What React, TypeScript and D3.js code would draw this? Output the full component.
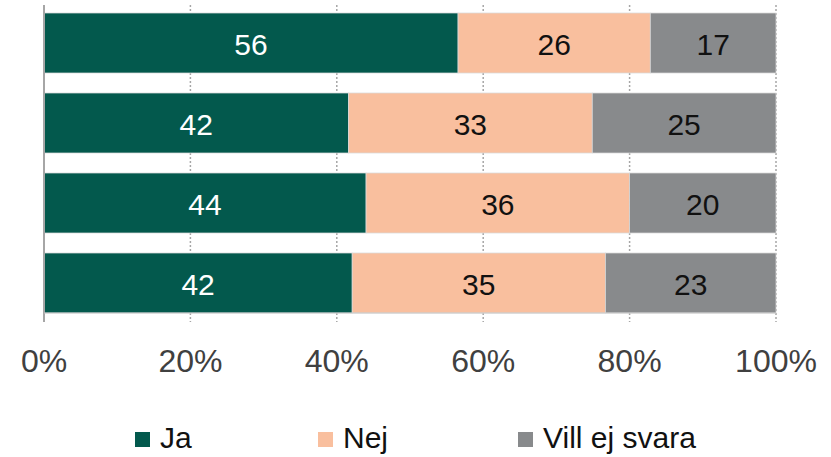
import React from 'react';
import * as d3 from 'd3';

const rows = ['r1', 'r2', 'r3', 'r4'];
const series = ['Ja', 'Nej', 'Vill ej svara'];
// shares; labels are shown rounded
const ja = [56, 41.6, 44, 42.1];
const nej = [26, 33.3, 36, 34.6];
const villEj = [17, 25.1, 20, 23.3];
const ticks = [0, 0.2, 0.4, 0.6, 0.8, 1];
const colors = ['#03594d', '#f9bf9e', '#888a8c'];
const labelColors = ['#ffffff', '#111111', '#111111'];

const W = 831;
const H = 457;
const margin = { top: 3, right: 55, bottom: 134, left: 44 };

const App: React.FC = () => {
  const x = d3.scaleLinear().domain([0, 1]).range([margin.left, W - margin.right]);
  const y = d3.scaleBand<string>()
    .domain(rows)
    .range([margin.top, H - margin.bottom])
    .paddingInner(0.25)
    .paddingOuter(0.125);

  const table = rows.map((r, i) => ({ row: r, Ja: ja[i], Nej: nej[i], 'Vill ej svara': villEj[i] }));
  const stacked = d3.stack<any>().keys(series).offset(d3.stackOffsetExpand)(table);

  const plotBottom = (y(rows[rows.length - 1]) || 0) + y.bandwidth();
  const font = '"Liberation Sans", Arial, sans-serif';
  const legendX = [135, 318, 518];

  return (
    <svg width={W} height={H} style={{ position: 'absolute', left: 0, top: 0, background: '#fff' }}>
      {/* grid */}
      {ticks.slice(1).map(t => (
        <line key={t} x1={x(t)} x2={x(t)} y1={5} y2={plotBottom + 9}
          stroke="#a6a6a6" strokeWidth={1.5} strokeDasharray="2,2" />
      ))}
      {stacked.map((s, si) => (
        <g key={s.key}>
          {s.map((d, i) => (
            <g key={i}>
              <rect x={x(d[0])} y={y(rows[i])} width={x(d[1]) - x(d[0])} height={y.bandwidth()}
                fill={colors[si]} stroke="#d9d9d9" strokeWidth={0.75} />
              <text x={(x(d[0]) + x(d[1])) / 2} y={(y(rows[i]) || 0) + y.bandwidth() / 2 + 12}
                textAnchor="middle" fontFamily={font} fontSize={30}
                fill={labelColors[si]}>
                {d3.format('.0f')((d.data as any)[s.key])}
              </text>
            </g>
          ))}
        </g>
      ))}
      {/* axes */}
      <line x1={x(0)} x2={x(0)} y1={5} y2={plotBottom + 9} stroke="#a6a6a6" strokeWidth={2} />
      <line x1={x(0)} x2={x(1)} y1={plotBottom} y2={plotBottom} stroke="#c8c8c8" strokeWidth={1} />
      {ticks.map(t => (
        <text key={t} x={x(t)} y={372} textAnchor="middle"
          fontFamily={font} fontSize={32} fill="#404040">
          {d3.format('.0%')(t)}
        </text>
      ))}
      {/* legend */}
      {series.map((s, i) => (
        <g key={s}>
          <rect x={legendX[i]} y={432} width={15} height={15} fill={colors[i]} />
          <text x={legendX[i] + 25} y={448} fontFamily={font} fontSize={30} fill="#111">
            {s}
          </text>
        </g>
      ))}
    </svg>
  );
};

export default App;
